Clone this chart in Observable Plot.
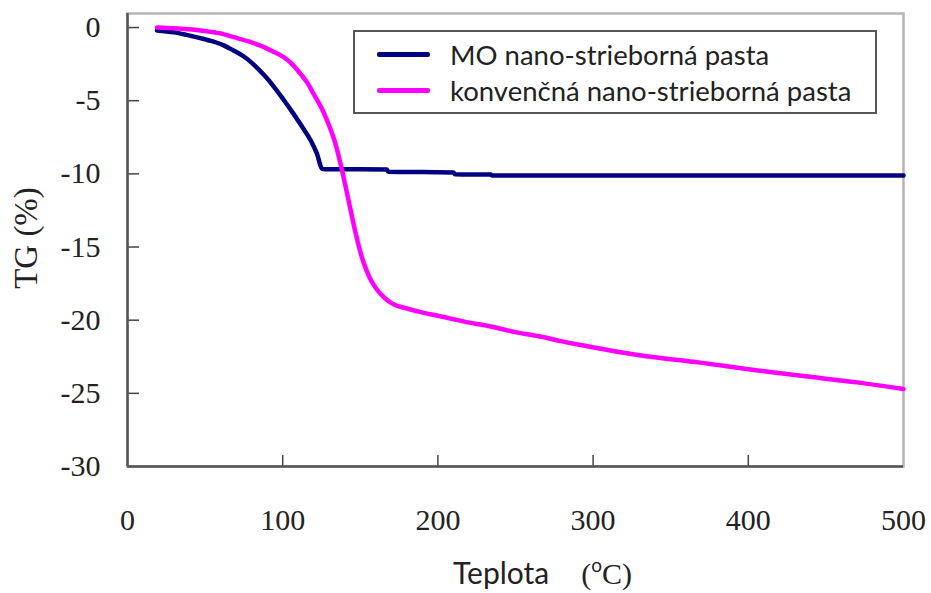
<!DOCTYPE html>
<html>
<head>
<meta charset="utf-8">
<script src="https://cdn.jsdelivr.net/npm/d3@7"></script>
<script src="https://cdn.jsdelivr.net/npm/@observablehq/plot@0.6"></script>
<style>
  html, body { margin: 0; padding: 0; background: #fff; }
  #wrap { position: relative; width: 931px; height: 593px; }
  #legend {
    position: absolute; left: 353px; top: 30px; width: 520px; height: 80px;
    border: 2px solid #555; box-sizing: content-box; background: #fff;
    font-family: Lato, "Open Sans", sans-serif; font-size: 27.5px; color: #222;
  }
  .row { position: absolute; left: 0; height: 30px; display: flex; align-items: center; }
  .sw { width: 53px; height: 5px; margin-left: 22px; margin-right: 20px; border-radius: 2px; }
</style>
</head>
<body>
<div id="wrap"></div>
<script>
// Series names
const seriesNames = ["MO nano-strieborná pasta", "konvenčná nano-strieborná pasta"];
const seriesColors = ["#000080", "#ff00ff"];

// MO nano-silver paste: temperature (°C) and TG (%)
const moT =  [19, 30, 38, 47, 55, 62, 68, 75, 81, 88, 94, 100, 107, 112, 118, 122, 125.5, 130, 150, 167, 168, 190, 210, 211, 234, 235, 300, 400, 500];
const moTG = [-0.2, -0.33, -0.5, -0.72, -0.95, -1.22, -1.55, -1.98, -2.5, -3.25, -4.0, -4.85, -5.9, -6.7, -7.7, -8.6, -9.66, -9.68, -9.68, -9.7, -9.85, -9.88, -9.9, -10.02, -10.05, -10.12, -10.12, -10.12, -10.12];

// Conventional nano-silver paste
const convT =  [19, 30, 47, 60, 68.5, 78, 86, 94, 101, 107, 111.5, 116, 120, 125, 128, 131, 134, 137, 140, 143, 145, 148, 151, 154, 157, 160, 163, 167, 172, 180, 189, 200, 217, 235, 249, 265, 280, 292, 305, 330, 369, 400, 434, 470, 500];
const convTG = [0, -0.05, -0.2, -0.4, -0.66, -0.95, -1.25, -1.65, -2.05, -2.6, -3.17, -3.8, -4.55, -5.5, -6.2, -7.0, -7.95, -9.2, -10.6, -12.1, -13.1, -14.5, -15.7, -16.6, -17.3, -17.8, -18.2, -18.6, -18.95, -19.2, -19.45, -19.7, -20.1, -20.45, -20.8, -21.1, -21.45, -21.7, -21.95, -22.4, -22.9, -23.35, -23.8, -24.25, -24.7];

// Axis ticks
const xTickValues = [0, 100, 200, 300, 400, 500];
const xInnerTicks = [100, 200, 300, 400];
const yTickValues = [0, -5, -10, -15, -20, -25, -30];
const yInnerTicks = [0, -5, -10, -15, -20, -25];

const data = [
  ...moT.map((t, i) => ({T: t, TG: moTG[i], s: seriesNames[0]})),
  ...convT.map((t, i) => ({T: t, TG: convTG[i], s: seriesNames[1]}))
];

const serif = "'Liberation Serif', 'Times New Roman', serif";
const sans = "Lato, 'Open Sans', sans-serif";
const noLabel = () => "";

const chart = Plot.plot({
  width: 931,
  height: 593,
  marginLeft: 127,
  marginRight: 28,
  marginTop: 13,
  marginBottom: 127,
  style: {background: "#fff", overflow: "visible"},
  x: {domain: [0, 500]},
  y: {domain: [-30, 0.96]},
  color: {domain: seriesNames, range: seriesColors},
  marks: [
    Plot.frame({stroke: "#b5b5b5", strokeWidth: 2.5}),
    Plot.axisX(xInnerTicks, {tickSize: -11, tickFormat: noLabel, stroke: "#444", strokeWidth: 1.5, label: null}),
    Plot.axisY(yInnerTicks, {tickSize: -12, tickFormat: noLabel, stroke: "#444", strokeWidth: 1.5, label: null}),
    Plot.axisX(xTickValues, {tickSize: 0, tickPadding: 42, fontSize: 30, fontFamily: serif, fill: "#222", label: null, textAnchor: "middle", tickFormat: d => String(d)}),
    Plot.axisY(yTickValues, {tickSize: 0, tickPadding: 27, fontSize: 30, fontFamily: serif, fill: "#222", label: null, tickFormat: d => String(d)}),
    Plot.ruleX([0], {stroke: "#555", strokeWidth: 2.5}),
    Plot.ruleY([-30], {stroke: "#555", strokeWidth: 2.5}),
    Plot.line(data, {x: "T", y: "TG", stroke: "s", z: "s", strokeWidth: 4.5, curve: "monotone-x"})
  ]
});

const svg = d3.select(chart);
// y-axis title
svg.append("text")
  .attr("transform", "translate(37,238) rotate(-90)")
  .attr("text-anchor", "middle")
  .attr("font-family", serif)
  .attr("font-size", 33)
  .attr("fill", "#222")
  .text("TG (%)");
// x-axis title
const xt = svg.append("text")
  .attr("x", 453).attr("y", 584)
  .attr("text-anchor", "start")
  .attr("font-family", sans)
  .attr("font-size", 30)
  .attr("fill", "#222");
xt.append("tspan").text("Teplota");
xt.append("tspan").attr("dx", 32).attr("font-family", serif).attr("font-size", 30).text("(");
xt.append("tspan").attr("font-family", sans).attr("font-size", 19).attr("dy", -12).text("o");
xt.append("tspan").attr("dy", 12).attr("font-family", serif).attr("font-size", 30).text("C)");

const wrap = document.getElementById("wrap");
wrap.appendChild(chart);

const legend = document.createElement("div");
legend.id = "legend";
seriesNames.forEach((name, i) => {
  const row = document.createElement("div");
  row.className = "row";
  row.style.top = (i === 0 ? 7 : 43) + "px";
  const sw = document.createElement("div");
  sw.className = "sw";
  sw.style.background = seriesColors[i];
  const tx = document.createElement("span");
  tx.textContent = name;
  row.appendChild(sw); row.appendChild(tx);
  legend.appendChild(row);
});
wrap.appendChild(legend);
</script>
</body>
</html>
